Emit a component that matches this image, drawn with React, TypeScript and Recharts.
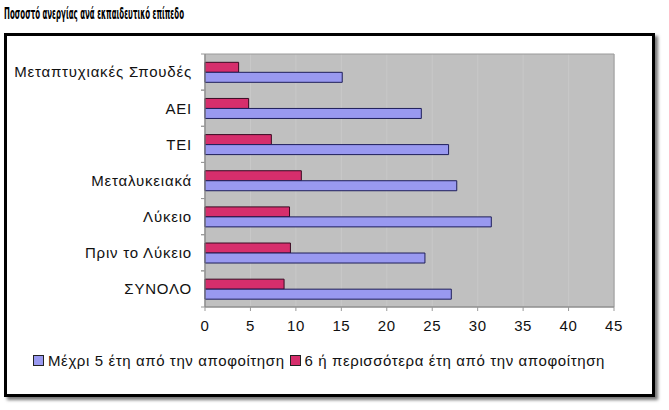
import { BarChart, Bar, XAxis, YAxis, CartesianGrid, Legend, ReferenceArea } from 'recharts';

const levels = [
  'Μεταπτυχιακές Σπουδές',
  'ΑΕΙ',
  'ΤΕΙ',
  'Μεταλυκειακά',
  'Λύκειο',
  'Πριν το Λύκειο',
  'ΣΥΝΟΛΟ',
];
const upTo5Years = [15.1, 23.8, 26.8, 27.7, 31.5, 24.2, 27.1];
const over6Years = [3.7, 4.8, 7.3, 10.6, 9.3, 9.4, 8.7];
const xTicks = [0, 5, 10, 15, 20, 25, 30, 35, 40, 45];
const seriesNames = [
  'Μέχρι 5 έτη από την αποφοίτηση',
  '6 ή περισσότερα έτη από την αποφοίτηση',
];

const BLUE = '#9999F0';
const PINK = '#D62E6C';
const FONT = '"Liberation Sans", Arial, sans-serif';
const Y_TICK_SIZE = 8;
const Y_TICK_MARGIN = 5;

const chartData = levels.map((level, i) => ({
  level,
  upTo5: upTo5Years[i],
  over6: over6Years[i],
}));

// category label + excel style tick marks on the band edges
function LevelTick(props: any) {
  const { x, y, payload } = props;
  const axisX = x + Y_TICK_SIZE + Y_TICK_MARGIN;
  const half = payload.offset || 0;
  return (
    <g>
      <line x1={axisX - 4} x2={axisX} y1={y - half} y2={y - half} stroke="#999" />
      <line x1={axisX - 4} x2={axisX} y1={y + half} y2={y + half} stroke="#999" />
      <text
        x={x}
        y={y}
        dy="0.355em"
        textAnchor="end"
        fill="#111"
        fontSize={15}
        fontFamily={FONT}
        letterSpacing={0.8}
      >
        {payload.value}
      </text>
    </g>
  );
}

function ChartLegend() {
  const items = [
    { name: seriesNames[0], color: BLUE },
    { name: seriesNames[1], color: PINK },
  ];
  return (
    <div
      style={{
        height: 50,
        boxSizing: 'border-box',
        paddingLeft: 33,
        paddingTop: 15,
        display: 'flex',
        alignItems: 'flex-start',
        fontFamily: FONT,
        fontSize: 15,
        letterSpacing: 0.6,
        color: '#111',
      }}
    >
      {items.map((it) => (
        <span key={it.name} style={{ display: 'flex', alignItems: 'center', marginRight: 5 }}>
          <span
            style={{
              width: 9,
              height: 9,
              background: it.color,
              border: '1px solid #222',
              marginRight: 4,
              display: 'inline-block',
            }}
          />
          {it.name}
        </span>
      ))}
    </div>
  );
}

export default function App() {
  return (
    <div
      style={{
        position: 'fixed',
        left: 0,
        top: 0,
        width: 669,
        height: 410,
        background: '#fff',
        overflow: 'hidden',
      }}
    >
      <svg width={669} height={30} style={{ position: 'absolute', left: 0, top: 0 }}>
        <text
          x={4}
          y={19}
          fontFamily='"DejaVu Sans Condensed", "DejaVu Sans", sans-serif'
          fontWeight="bold"
          fontSize={15}
          textLength={180}
          lengthAdjust="spacingAndGlyphs"
          fill="#000"
        >
          Ποσοστό ανεργίας ανά εκπαιδευτικό επίπεδο
        </text>
      </svg>

      <div
        style={{
          position: 'absolute',
          left: 4,
          top: 33,
          width: 651,
          height: 364,
          boxSizing: 'border-box',
          border: '3px solid #000',
          boxShadow: '3px 3px 3px #777',
        }}
      />

      <div style={{ position: 'absolute', left: 0, top: 0 }}>
        <BarChart
          width={669}
          height={410}
          data={chartData}
          layout="vertical"
          margin={{ top: 54, right: 55, left: 0, bottom: 23 }}
          barCategoryGap="23%"
          barGap={0}
        >
          <CartesianGrid horizontal={false} stroke="#C8C8C8" fill="#C0C0C0" />
          <ReferenceArea x1={0} x2={45} fill="none" stroke="#9A9A9A" ifOverflow="visible" />
          <XAxis
            type="number"
            domain={[0, 45]}
            ticks={xTicks}
            height={30}
            tick={{ fill: '#111', fontSize: 15, fontFamily: FONT, letterSpacing: 0.6 }}
            tickLine={{ stroke: '#999' }}
            tickSize={4}
            axisLine={{ stroke: '#888' }}
            tickMargin={9}
          />
          <YAxis
            type="category"
            dataKey="level"
            width={205}
            tick={<LevelTick />}
            tickLine={false}
            axisLine={{ stroke: '#888' }}
            tickSize={Y_TICK_SIZE}
            tickMargin={Y_TICK_MARGIN}
          />
          <Legend verticalAlign="bottom" align="left" content={() => <ChartLegend />} />
          <Bar
            dataKey="over6"
            name={seriesNames[1]}
            fill={PINK}
            stroke="#3A0A22"
            strokeWidth={1}
            isAnimationActive={false}
          />
          <Bar
            dataKey="upTo5"
            name={seriesNames[0]}
            fill={BLUE}
            stroke="#1E1E5A"
            strokeWidth={1}
            isAnimationActive={false}
          />
        </BarChart>
      </div>
    </div>
  );
}
